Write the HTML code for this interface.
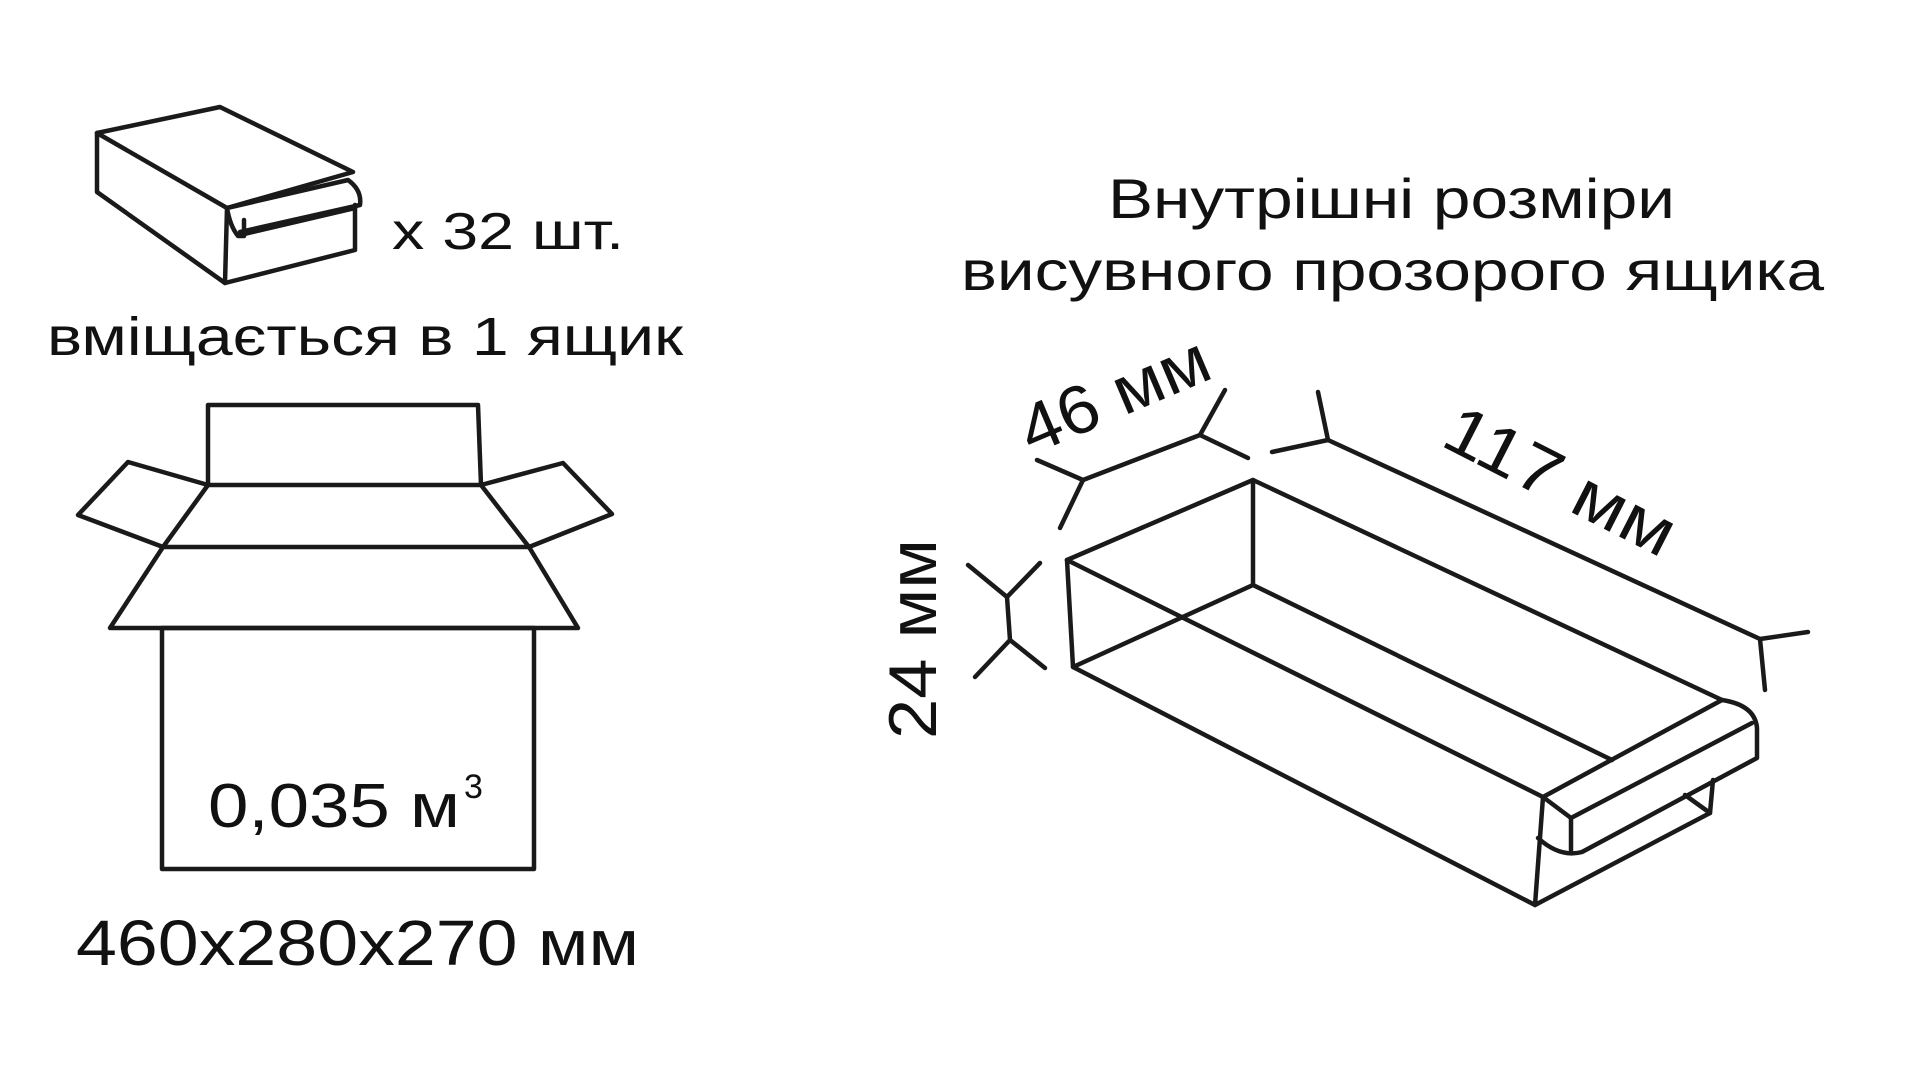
<!DOCTYPE html>
<html><head><meta charset="utf-8"><style>html,body{margin:0;padding:0;background:#fff}svg{display:block}</style></head>
<body>
<svg width="1920" height="1080" viewBox="0 0 1920 1080" xmlns="http://www.w3.org/2000/svg">
<g fill="none" stroke="#1a1a1a" stroke-width="4.5" stroke-linejoin="round" stroke-linecap="round">
<!-- small box -->
<path d="M97,133 L220,107 L353,172 L227,208 Z"/>
<path d="M97,133 L97,192 L225,283 L227,208"/>
<path d="M225,283 L355,250 L355,205"/>
<path d="M227,208 L348,180 Q362,190 360,205 L240,232"/>
<path d="M227,208 Q230,226 238,236 L244,236 L244,220"/>
<path d="M244,234 L355,208"/>
<!-- open carton -->
<rect x="162" y="628" width="372" height="241"/>
<path d="M110,628 L578,628 L529,547 L163,547 Z"/>
<path d="M163,547 L208,485 L481,485 L529,547"/>
<path d="M208,485 L208,405 L478,405 L481,485"/>
<path d="M163,547 L78,515 L128,462 L208,485"/>
<path d="M481,485 L563,463 L612,514 L529,547"/>
<!-- drawer -->
<path d="M1067,560 L1253,480 L1722,700"/>
<path d="M1067,560 L1073,667 L1535,905"/>
<path d="M1067,560 L1543,797"/>
<path d="M1253,480 L1253,585 L1612,760"/>
<path d="M1073,667 L1253,585"/>
<path d="M1543,797 L1722,700 Q1755,705 1757,728 L1757,758 L1582,852 Q1560,858 1538,838"/>
<path d="M1543,797 L1571,818 L1752,723"/>
<path d="M1571,818 L1571,850"/>
<path d="M1543,797 L1535,905 L1710,813 L1713,780"/>
<path d="M1685,795 L1710,813"/>
<!-- dims -->
<path d="M1083,480 L1200,435"/>
<path d="M1083,480 L1037,460 M1083,480 L1060,528"/>
<path d="M1200,435 L1225,390 M1200,435 L1248,458"/>
<path d="M1328,440 L1760,639"/>
<path d="M1328,440 L1318,392 M1328,440 L1272,452"/>
<path d="M1760,639 L1808,632 M1760,639 L1765,690"/>
<path d="M1007,597 L968,565 M1007,597 L1040,563 M1007,597 L1010,640 L975,677 M1010,640 L1045,668"/>
</g>
<g font-family="Liberation Sans, DejaVu Sans, sans-serif" fill="#111">
<text x="392" y="249" font-size="52" textLength="232" lengthAdjust="spacingAndGlyphs">x 32 шт.</text>
<text x="47" y="355" font-size="54" textLength="636" lengthAdjust="spacingAndGlyphs">вміщається в 1 ящик</text>
<text x="208" y="827" font-size="62" textLength="252" lengthAdjust="spacingAndGlyphs">0,035 м</text>
<text x="464" y="798" font-size="34">3</text>
<text x="76" y="965" font-size="64" textLength="563" lengthAdjust="spacingAndGlyphs">460x280x270 мм</text>
<text x="1108" y="218" font-size="56" textLength="567" lengthAdjust="spacingAndGlyphs">Внутрішні розміри</text>
<text x="961" y="290" font-size="56" textLength="863" lengthAdjust="spacingAndGlyphs">висувного прозорого ящика</text>
<text transform="translate(1114,394) rotate(-23)" text-anchor="middle" y="24" font-size="68" textLength="200" lengthAdjust="spacingAndGlyphs">46 мм</text>
<text transform="translate(1561,480) rotate(27)" text-anchor="middle" y="24" font-size="68" textLength="250" lengthAdjust="spacingAndGlyphs">117 мм</text>
<text transform="translate(912,639) rotate(-90)" text-anchor="middle" y="24" font-size="68" textLength="200" lengthAdjust="spacingAndGlyphs">24 мм</text>
</g>
</svg>
</body></html>
